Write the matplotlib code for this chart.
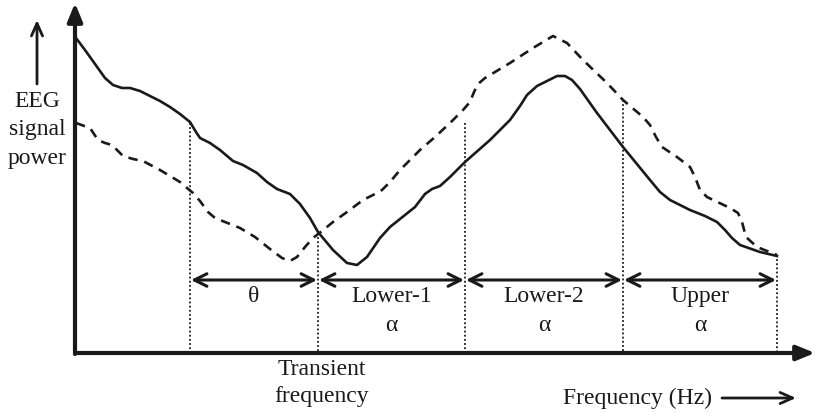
import matplotlib.pyplot as plt

plt.rcParams['font.family'] = ['Liberation Serif', 'DejaVu Serif']

# curves (x, y in picture units, y grows downward)
solid_x = [76, 85, 95, 105, 113, 122, 130, 140, 150, 160, 170, 180, 190, 196, 200, 210,
           220, 233, 243, 257, 267, 277, 290, 300, 310, 318, 333, 347, 357, 367, 380, 390,
           400, 415, 425, 432, 440, 450, 465, 490, 510, 520, 527, 537, 557, 565, 572, 580,
           597, 623, 650, 660, 670, 690, 705, 717, 725, 732, 740, 760, 777]
solid_y = [38, 50, 64, 78, 85, 88, 88, 91, 96, 101, 107, 114, 122, 132, 138, 143,
           150, 161, 165, 173, 182, 189, 194, 204, 218, 232, 250, 263, 265, 257, 238, 227,
           219, 207, 194, 189, 186, 177, 162, 140, 120, 106, 95, 86, 76, 76, 80, 89,
           113, 147, 180, 192, 200, 210, 216, 222, 230, 238, 245, 252, 256]

dash_x = [76, 90, 98, 105, 112, 123, 133, 143, 160, 180, 193, 200, 208, 215, 225, 240,
          255, 270, 282, 290, 297, 305, 313, 322, 333, 347, 363, 375, 382, 390, 400, 420,
          435, 450, 463, 470, 474, 478, 485, 510, 533, 553, 567, 583, 607, 623, 643, 650,
          656, 662, 677, 690, 695, 700, 707, 730, 738, 742, 746, 757, 777]
dash_y = [123, 128, 140, 143, 145, 156, 159, 161, 170, 182, 193, 201, 212, 218, 222, 228,
          237, 249, 258, 261, 257, 247, 238, 231, 222, 212, 200, 194, 190, 182, 170, 150,
          137, 123, 110, 102, 92, 84, 78, 63, 48, 36, 43, 60, 83, 100, 117, 125,
          137, 147, 157, 167, 177, 190, 197, 208, 213, 222, 237, 247, 255]

# band edges and the top of each dotted marker
edges = [190, 318, 465, 623, 777]
edge_tops = [123, 233, 123, 100, 255]
bands = ['θ', 'Lower-1\nα', 'Lower-2\nα', 'Upper\nα']

fig = plt.figure(figsize=(8.15, 4.13), dpi=100)
ax = fig.add_axes([0, 0, 1, 1])
ax.set_xlim(0, 815)
ax.set_ylim(413, 0)
ax.axis('off')

ax.plot(solid_x, solid_y, color='#1a1a1a', lw=1.9, solid_joinstyle='round')
ax.plot(dash_x, dash_y, color='#1a1a1a', lw=1.9, linestyle=(0, (3.6, 2.6)))

x_axis_y = 353
for x, top in zip(edges, edge_tops):
    ax.plot([x, x], [top, x_axis_y], color='#1a1a1a', lw=1.3, linestyle=(0, (1, 1.3)))

arrow_y = 280
for left, right, name in zip(edges[:-1], edges[1:], bands):
    ax.annotate('', xy=(right - 1, arrow_y), xytext=(left + 1, arrow_y),
                arrowprops=dict(arrowstyle='<->,head_length=0.9,head_width=0.45',
                                lw=2.2, color='#1a1a1a', shrinkA=0, shrinkB=0))
    ax.text((left + right) / 2, 286, name, ha='center', va='top', fontsize=17,
            linespacing=1.5, color='#1a1a1a')

# axes drawn as arrows
ax.annotate('', xy=(815, x_axis_y), xytext=(75, x_axis_y),
            arrowprops=dict(arrowstyle='-|>,head_length=1.1,head_width=0.45',
                            lw=3, color='#1a1a1a', shrinkA=0, shrinkB=0))
ax.annotate('', xy=(75, 3), xytext=(75, x_axis_y + 1),
            arrowprops=dict(arrowstyle='-|>,head_length=1.1,head_width=0.45',
                            lw=3, color='#1a1a1a', shrinkA=0, shrinkB=0))

ax.text(37, 130, 'EEG\nsignal\npower', ha='center', va='center', fontsize=17,
        linespacing=1.45, color='#1a1a1a')
ax.annotate('', xy=(37, 20), xytext=(37, 84),
            arrowprops=dict(arrowstyle='->,head_length=0.9,head_width=0.4',
                            lw=2, color='#1a1a1a', shrinkA=0, shrinkB=0))

ax.text(322, 383, 'Transient\nfrequency', ha='center', va='center', fontsize=17,
        linespacing=1.4, color='#1a1a1a')
ax.text(712, 398, 'Frequency (Hz)', ha='right', va='center', fontsize=17, color='#1a1a1a')
ax.annotate('', xy=(796, 398), xytext=(722, 398),
            arrowprops=dict(arrowstyle='->,head_length=0.9,head_width=0.4',
                            lw=2, color='#1a1a1a', shrinkA=0, shrinkB=0))

fig.savefig('out.png', dpi=100)
